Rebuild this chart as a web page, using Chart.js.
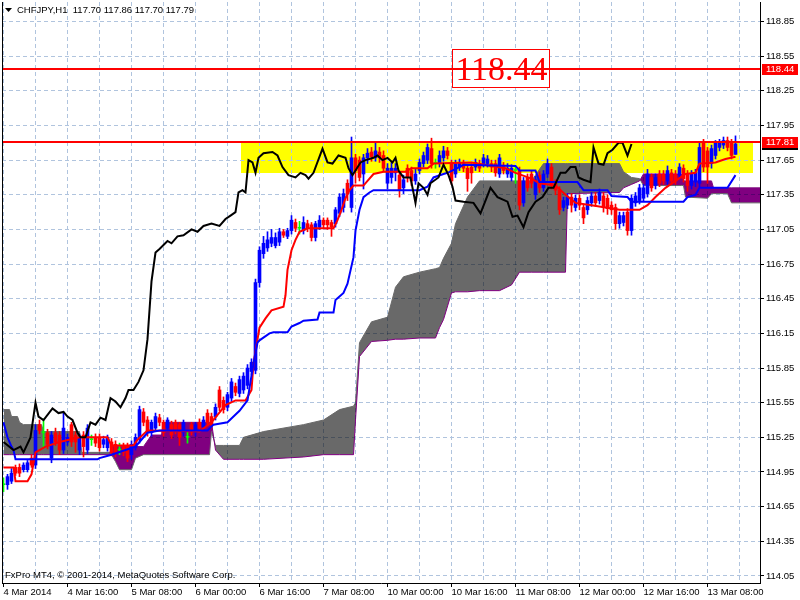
<!DOCTYPE html>
<html>
<head>
<meta charset="utf-8">
<script src="https://cdn.jsdelivr.net/npm/chart.js@4.4.1/dist/chart.umd.min.js"></script>
<style>
  html, body { margin: 0; padding: 0; background: #fff; }
</style>
</head>
<body>
<canvas id="myChart" width="800" height="600"></canvas>
<script>
// Global font settings (MT4 uses a small Tahoma, closest here is Liberation Sans)
Chart.defaults.font.family = "'Liberation Sans', Arial, sans-serif";
Chart.defaults.font.size = 9.5;
Chart.defaults.color = '#000';

const COLORS = {
    BULL: '#0000ff',
    BEAR: '#ff0000',
    DOJI: '#00ff00',
    GRID: '#b0c4de',
    CLOUD_UP: '#696969',
    CLOUD_DN: '#800080',
    ZONE: '#ffff00',
    LEVEL: '#ff0000',
    TENKAN: '#ff0000',
    KIJUN: '#0000ff',
    CHIKOU: '#000000'
};

// CHFJPY H1, bar 0 = 4 Mar 2014 00:00
const opens = [
    114.84,114.84,114.87,114.99,114.99,114.97,114.97,115.07,
    115.01,115.36,115.29,115.29,115.07,115.29,115.27,115.14,
    115.21,115.36,115.27,115.14,115.27,115.14,115.23,115.25,
    115.25,115.19,115.16,115.21,115.19,115.14,115.17,115.17,
    115.10,115.16,115.23,115.47,115.40,115.29,115.33,115.42,
    115.38,115.33,115.36,115.38,115.36,115.29,115.25,115.36,
    115.29,115.38,115.34,115.46,115.43,115.43,115.66,115.57,
    115.51,115.59,115.69,115.63,115.66,115.70,115.82,115.83,
    116.59,116.84,116.89,116.93,116.91,116.94,117.03,116.99,
    117.04,117.11,117.06,117.04,117.10,117.09,116.98,117.07,
    117.13,117.13,117.11,117.10,117.19,117.24,117.45,117.24,
    117.67,117.65,117.53,117.67,117.72,117.67,117.72,117.69,
    117.45,117.50,117.54,117.52,117.41,117.58,117.56,117.47,
    117.56,117.62,117.65,117.75,117.62,117.62,117.67,117.73,
    117.62,117.53,117.59,117.62,117.58,117.59,117.59,117.62,
    117.62,117.62,117.62,117.62,117.53,117.60,117.53,117.50,
    117.56,117.56,117.28,117.50,117.53,117.35,117.52,117.41,
    117.53,117.59,117.45,117.39,117.24,117.26,117.33,117.24,
    117.32,117.24,117.22,117.28,117.34,117.30,117.34,117.32,
    117.26,117.24,117.10,117.11,117.20,117.04,117.28,117.30,
    117.32,117.36,117.50,117.43,117.53,117.53,117.47,117.54,
    117.53,117.52,117.58,117.53,117.43,117.46,117.45,117.80,
    117.73,117.62,117.69,117.76,117.78,117.82,117.80,117.70
];
const highs = [
    114.90,114.93,114.98,115.01,115.02,115.03,115.05,115.10,
    115.36,115.40,115.41,115.32,115.30,115.33,115.30,115.47,
    115.28,115.38,115.30,115.28,115.30,115.36,115.27,115.28,
    115.28,115.26,115.27,115.24,115.22,115.20,115.20,115.20,
    115.22,115.28,115.52,115.50,115.43,115.40,115.46,115.45,
    115.40,115.42,115.39,115.40,115.38,115.40,115.30,115.38,
    115.38,115.41,115.43,115.49,115.46,115.54,115.69,115.60,
    115.64,115.76,115.72,115.78,115.81,115.88,115.93,116.62,
    116.90,116.99,117.03,117.05,117.02,117.06,117.05,117.06,
    117.17,117.14,117.12,117.16,117.13,117.11,117.12,117.17,
    117.15,117.15,117.13,117.24,117.36,117.40,117.48,117.85,
    117.70,117.68,117.70,117.75,117.76,117.80,117.76,117.73,
    117.62,117.63,117.62,117.55,117.52,117.61,117.59,117.57,
    117.66,117.72,117.79,117.84,117.66,117.73,117.77,117.76,
    117.65,117.65,117.66,117.65,117.61,117.62,117.66,117.65,
    117.70,117.69,117.65,117.65,117.70,117.63,117.62,117.61,
    117.60,117.59,117.50,117.53,117.56,117.51,117.55,117.56,
    117.66,117.62,117.48,117.42,117.33,117.36,117.36,117.35,
    117.35,117.27,117.33,117.37,117.37,117.40,117.37,117.35,
    117.29,117.27,117.20,117.20,117.23,117.35,117.37,117.44,
    117.44,117.57,117.53,117.53,117.56,117.56,117.60,117.57,
    117.56,117.62,117.61,117.56,117.56,117.57,117.80,117.83,
    117.76,117.78,117.82,117.83,117.85,117.85,117.83,117.86
];
const lows = [
    114.78,114.80,114.85,114.92,114.91,114.95,114.95,114.99,
    114.98,115.28,115.16,115.15,115.03,115.18,115.10,115.11,
    115.18,115.17,115.12,115.10,115.08,115.11,115.18,115.17,
    115.13,115.16,115.13,115.09,115.08,115.10,115.09,115.04,
    115.06,115.14,115.20,115.35,115.26,115.26,115.30,115.35,
    115.26,115.30,115.24,115.28,115.18,115.26,115.20,115.27,
    115.26,115.30,115.31,115.35,115.33,115.40,115.48,115.46,
    115.48,115.56,115.61,115.60,115.63,115.67,115.79,115.80,
    116.55,116.80,116.86,116.90,116.89,116.91,116.98,116.97,
    117.01,117.03,117.01,117.01,117.03,116.95,116.95,117.05,
    117.06,117.05,116.99,117.07,117.16,117.20,117.30,117.20,
    117.45,117.47,117.40,117.62,117.64,117.64,117.63,117.55,
    117.40,117.45,117.47,117.33,117.36,117.46,117.43,117.44,
    117.53,117.59,117.62,117.58,117.58,117.59,117.64,117.66,
    117.44,117.50,117.56,117.55,117.38,117.45,117.56,117.55,
    117.59,117.59,117.55,117.51,117.50,117.53,117.50,117.47,
    117.45,117.22,117.25,117.38,117.41,117.31,117.37,117.38,
    117.50,117.40,117.35,117.18,117.21,117.23,117.20,117.21,
    117.22,117.10,117.18,117.25,117.25,117.27,117.20,117.18,
    117.18,117.05,117.06,117.08,117.00,117.00,117.25,117.27,
    117.29,117.33,117.38,117.40,117.42,117.44,117.44,117.44,
    117.44,117.49,117.46,117.38,117.40,117.42,117.42,117.55,
    117.45,117.58,117.66,117.73,117.75,117.73,117.66,117.70
];
const closes = [
    114.84,114.91,114.94,114.94,114.94,115.01,115.03,115.01,
    115.31,115.31,115.29,115.19,115.27,115.21,115.14,115.33,
    115.25,115.21,115.21,115.25,115.17,115.33,115.23,115.20,
    115.16,115.23,115.25,115.12,115.12,115.14,115.12,115.07,
    115.19,115.25,115.49,115.38,115.29,115.38,115.43,115.38,
    115.29,115.40,115.27,115.31,115.25,115.38,115.25,115.30,
    115.36,115.33,115.40,115.38,115.36,115.51,115.51,115.49,
    115.62,115.73,115.64,115.75,115.78,115.85,115.90,116.59,
    116.87,116.93,116.96,116.98,116.98,117.03,117.00,117.04,
    117.13,117.06,117.06,117.11,117.06,116.98,117.10,117.13,
    117.09,117.09,117.07,117.22,117.33,117.36,117.36,117.67,
    117.56,117.50,117.67,117.71,117.68,117.73,117.67,117.58,
    117.58,117.58,117.58,117.39,117.48,117.50,117.47,117.53,
    117.63,117.69,117.76,117.62,117.62,117.69,117.73,117.69,
    117.47,117.62,117.63,117.58,117.49,117.54,117.63,117.58,
    117.67,117.66,117.59,117.54,117.67,117.56,117.58,117.58,
    117.56,117.26,117.47,117.41,117.45,117.48,117.41,117.53,
    117.62,117.43,117.39,117.22,117.30,117.33,117.26,117.32,
    117.26,117.15,117.30,117.34,117.28,117.37,117.24,117.23,
    117.22,117.10,117.17,117.17,117.04,117.32,117.34,117.41,
    117.41,117.53,117.41,117.50,117.45,117.47,117.56,117.47,
    117.47,117.59,117.49,117.43,117.53,117.54,117.76,117.59,
    117.59,117.75,117.80,117.80,117.82,117.76,117.69,117.79
];

// Ichimoku lines as [bar, price]
const tenkan = [
    [0,114.99],[2.5,114.99],[3,114.87],[6,114.87],[7,114.93],[8,115.12],[10.5,115.17],[14,115.21],
    [19,115.25],[26,115.25],[27,115.18],[32.5,115.18],[33.5,115.23],[36,115.31],[49,115.30],[52,115.38],
    [55.5,115.53],[58,115.57],[60.5,115.57],[62,115.66],[62.5,115.89],[64,116.20],[65.5,116.28],[67,116.35],
    [70,116.38],[70.5,116.48],[71,116.70],[72,116.87],[73,116.96],[74,117.03],[76,117.06],[82.5,117.06],
    [83.5,117.13],[84.5,117.22],[85.5,117.32],[86.5,117.39],[87.5,117.43],[90,117.43],[91,117.47],[92.5,117.53],
    [95,117.55],[100.5,117.55],[102,117.58],[106,117.58],[107.5,117.62],[117,117.63],[122,117.60],[125.5,117.58],
    [128,117.54],[132,117.49],[134,117.45],[138,117.43],[140.5,117.35],[143,117.28],[147,117.26],[150.5,117.24],
    [154,117.22],[159,117.22],[161,117.26],[163,117.33],[165.5,117.41],[168,117.47],[170.5,117.53],[173,117.54],
    [174,117.62],[178,117.63],[180.5,117.66],[183,117.68]
];
const kijun = [
    [0,115.38],[1,115.25],[2,115.17],[2.5,115.14],[3,115.06],[23.5,115.06],[24,115.07],[27,115.10],
    [30.5,115.14],[33,115.17],[36,115.29],[39,115.31],[51,115.31],[52.5,115.36],[56,115.38],[57.5,115.43],
    [59,115.48],[61,115.57],[62.5,115.89],[63.5,116.07],[64,116.09],[66.5,116.15],[67.5,116.16],[71,116.16],
    [72,116.21],[74,116.24],[75,116.26],[78.5,116.27],[79,116.33],[82.5,116.33],[83,116.44],[85,116.50],
    [86,116.58],[87.5,116.81],[88,117.04],[89,117.22],[90,117.33],[91.5,117.37],[92.5,117.39],[104,117.39],
    [106,117.42],[107.5,117.50],[110,117.53],[111,117.54],[114,117.59],[115,117.61],[128,117.60],[129,117.56],
    [133,117.56],[134,117.46],[143.5,117.46],[145,117.39],[151,117.39],[152,117.34],[156,117.33],[157,117.29],
    [170,117.29],[171,117.33],[173,117.35],[174,117.41],[181,117.41],[183,117.52]
];
const chikou = [
    [0,115.21],[2.5,115.14],[4.25,115.17],[5,115.12],[6.75,115.25],[8,115.55],[8.75,115.43],[10,115.40],
    [12.25,115.50],[13.75,115.46],[15,115.47],[16,115.43],[17.25,115.40],[18.5,115.29],[19.25,115.25],[20.5,115.25],
    [21.75,115.38],[23,115.36],[24.25,115.42],[25.5,115.40],[26.75,115.59],[28,115.56],[29.25,115.51],[30.5,115.59],
    [31.25,115.66],[32.5,115.66],[33.75,115.73],[35,115.83],[36,116.10],[37,116.60],[38,116.85],[39,116.88],
    [41,116.95],[42,116.93],[43.5,116.99],[45,117.00],[47,117.05],[48.5,117.03],[50,117.08],[52,117.10],
    [54,117.08],[55.5,117.14],[56.75,117.17],[58,117.20],[58.75,117.37],[59.75,117.39],[60.5,117.37],[61.25,117.65],
    [62.25,117.63],[63,117.54],[63.75,117.67],[65,117.71],[67.25,117.72],[68.5,117.69],[69.75,117.59],[71.25,117.52],
    [73,117.50],[74.25,117.54],[75.5,117.52],[76.25,117.49],[77.5,117.54],[79.75,117.75],[81,117.63],[82.25,117.62],
    [83.75,117.69],[85.5,117.67],[86.25,117.58],[87.25,117.52],[88,117.56],[89.25,117.63],[90.5,117.65],[92.5,117.67],
    [93.5,117.69],[94.75,117.65],[96,117.67],[97.25,117.63],[98,117.67],[98.75,117.56],[100,117.50],[101.75,117.50],
    [103,117.28],[103.75,117.45],[105,117.41],[106,117.35],[106.75,117.45],[108.75,117.50],[110,117.61],[111.25,117.52],
    [112.25,117.42],[113,117.30],[115,117.29],[117.5,117.28],[119.25,117.19],[121.75,117.41],[123.5,117.33],[126,117.29],
    [127.25,117.16],[128.5,117.17],[130,117.07],[131.25,117.20],[133,117.29],[134.75,117.33],[136.25,117.41],[137.5,117.41],
    [139.25,117.54],[140.5,117.54],[141.75,117.59],[143,117.59],[143.75,117.50],[145,117.48],[146.75,117.46],[147.5,117.76],
    [148.75,117.62],[150,117.61],[151,117.71],[152.25,117.74],[153.75,117.80],[154.75,117.80],[156,117.69],[157,117.79]
];
// Kumo (already shifted 26 bars forward)
const cloudBars = [
    0,1.5,2,3.5,4,5,9.5,10,19,19.5,26.5,27,28,29,32,33,35,37,39.5,40,51.5,52,53,55,59,60,65,75,80,84,87.5,88,
    89,92,96,98,100,104,108,109,110,112,113,116,119,124,127,129,132,135,140.5,141,154,155,157,159,160,169.5,
    170,170.5,176,177,177.5,181,182,189.5
];
const spanA = [
    115.49,115.49,115.43,115.43,115.38,115.36,115.36,115.30,115.30,115.12,115.12,115.10,115.04,114.97,114.97,115.07,
    115.10,115.10,115.10,115.10,115.10,115.30,115.18,115.18,115.18,115.25,115.30,115.36,115.40,115.49,115.52,115.55,
    116.07,116.25,116.29,116.55,116.64,116.68,116.71,116.72,116.80,116.93,117.10,117.33,117.47,117.47,117.47,117.47,
    117.47,117.62,117.62,117.62,117.62,117.55,117.50,117.49,117.43,117.43,117.43,117.33,117.32,117.36,117.36,117.36,
    117.28,117.28
];
const spanB = [
    115.10,115.10,115.10,115.10,115.10,115.10,115.10,115.10,115.10,115.10,115.10,115.17,115.17,115.17,115.17,115.17,
    115.17,115.27,115.27,115.38,115.38,115.38,115.14,115.06,115.06,115.06,115.06,115.08,115.10,115.10,115.10,115.40,
    115.95,116.08,116.09,116.10,116.10,116.11,116.11,116.20,116.27,116.50,116.51,116.51,116.52,116.52,116.57,116.68,
    116.68,116.68,116.68,117.36,117.37,117.41,117.44,117.47,117.53,117.53,117.47,117.47,117.47,117.47,117.41,117.41,
    117.41,117.41
];

const xGridBars = [0,8,16,24,32,40,48,56,64,72,80,88,96,104,112,120,128,136,144,152,160,168,176,184];
const xTickBars = [0,16,32,48,64,80,96,112,128,144,160,176];
const xTickLabels = ['4 Mar 2014','4 Mar 16:00','5 Mar 08:00','6 Mar 00:00','6 Mar 16:00','7 Mar 08:00',
    '10 Mar 00:00','10 Mar 16:00','11 Mar 08:00','12 Mar 00:00','12 Mar 16:00','13 Mar 08:00'];
const yTicks = [114.05,114.35,114.65,114.95,115.25,115.55,115.85,116.15,116.45,116.75,117.05,117.35,117.65,117.95,118.25,118.55,118.85];

const levels = [118.44, 117.81];
const bidPrice = 117.79;
const zone = { from: 59.25, to: 187.25, top: 117.81, bottom: 117.535 };
const labelBox = { from: 112.1, to: 136.4, top: 118.61, bottom: 118.28, text: '118.44' };
const titleText = 'CHFJPY,H1  117.70 117.86 117.70 117.79';
const footerText = 'FxPro MT4, \u00a9 2001-2014, MetaQuotes Software Corp.';

// Build candle datasets
const barIdx = closes.map((c, i) => i);
const candleColors = barIdx.map(i => closes[i] > opens[i] ? COLORS.BULL : (closes[i] < opens[i] ? COLORS.BEAR : COLORS.DOJI));
const toXY = pts => pts.map(p => ({ x: p[0], y: p[1] }));

function px(v) { return Math.round(v - 0.5) + 0.5; }

const overlays = {
    id: 'overlays',
    beforeDraw(chart) {
        const { ctx, scales: { x, y } } = chart;
        ctx.save();
        ctx.fillStyle = '#ffffff';
        ctx.fillRect(0, 0, chart.width, chart.height);
        // yellow zone rectangle
        const x1 = Math.round(x.getPixelForValue(zone.from)), x2 = Math.round(x.getPixelForValue(zone.to));
        const y1 = Math.round(y.getPixelForValue(zone.top)), y2 = Math.round(y.getPixelForValue(zone.bottom));
        ctx.fillStyle = COLORS.ZONE;
        ctx.fillRect(x1, y1, x2 - x1, y2 - y1);
        ctx.restore();
    },
    afterDatasetDraw(chart, args) {
        if (args.index !== 1) return;
        // grid shows through the cloud as darker dashes
        const { ctx, chartArea: a, scales: { x, y } } = chart;
        const pa = chart.getDatasetMeta(0).data, pb = chart.getDatasetMeta(1).data;
        ctx.save();
        ctx.beginPath();
        pa.forEach((p, i) => i ? ctx.lineTo(p.x, p.y) : ctx.moveTo(p.x, p.y));
        for (let i = pb.length - 1; i >= 0; i--) ctx.lineTo(pb[i].x, pb[i].y);
        ctx.closePath();
        ctx.clip();
        ctx.globalCompositeOperation = 'multiply';
        ctx.strokeStyle = COLORS.GRID;
        ctx.lineWidth = 1;
        ctx.setLineDash([4, 3]);
        x.ticks.forEach(t => {
            const xx = px(x.getPixelForValue(t.value));
            ctx.beginPath(); ctx.moveTo(xx, a.top); ctx.lineTo(xx, a.bottom); ctx.stroke();
        });
        y.ticks.forEach(t => {
            const yy = px(y.getPixelForValue(t.value));
            ctx.beginPath(); ctx.moveTo(a.left, yy); ctx.lineTo(a.right, yy); ctx.stroke();
        });
        ctx.restore();
    },
    afterDatasetsDraw(chart) {
        const { ctx, chartArea: a, scales: { x, y } } = chart;
        ctx.save();
        // text label box
        const bx1 = Math.round(x.getPixelForValue(labelBox.from)), bx2 = Math.round(x.getPixelForValue(labelBox.to));
        const by1 = Math.round(y.getPixelForValue(labelBox.top)), by2 = Math.round(y.getPixelForValue(labelBox.bottom));
        ctx.fillStyle = '#ffffff';
        ctx.fillRect(bx1, by1, bx2 - bx1, by2 - by1);
        ctx.strokeStyle = COLORS.LEVEL;
        ctx.lineWidth = 1;
        ctx.strokeRect(bx1 + 0.5, by1 + 0.5, bx2 - bx1, by2 - by1);
        // horizontal levels
        ctx.fillStyle = COLORS.LEVEL;
        levels.forEach(v => {
            const yy = Math.round(y.getPixelForValue(v));
            ctx.fillRect(a.left, yy - 1, a.right - a.left, 2);
        });
        ctx.font = "34px 'Liberation Serif', 'Times New Roman', serif";
        ctx.textAlign = 'center';
        ctx.textBaseline = 'alphabetic';
        ctx.fillText(labelBox.text, (bx1 + bx2) / 2 + 1, by2 - 7);
        ctx.restore();
    },
    afterDraw(chart) {
        const { ctx, chartArea: a, scales: { y } } = chart;
        ctx.save();
        // left frame line
        ctx.fillStyle = '#000';
        ctx.fillRect(a.left, a.top, 1, a.bottom - a.top);
        // price tags on the axis
        ctx.font = "9.5px 'Liberation Sans', Arial, sans-serif";
        ctx.textBaseline = 'middle';
        ctx.textAlign = 'left';
        const tags = [{ v: bidPrice, bg: '#000000' }, { v: levels[0], bg: COLORS.LEVEL }, { v: levels[1], bg: COLORS.LEVEL }];
        tags.forEach(t => {
            const yy = y.getPixelForValue(t.v);
            ctx.fillStyle = t.bg;
            ctx.fillRect(a.right + 2, Math.round(yy) - 5, chart.width - a.right - 4, 11);
            ctx.fillStyle = '#ffffff';
            ctx.fillText(t.v.toFixed(2), a.right + 6, Math.round(yy) + 0.5);
        });
        // title and footer
        ctx.fillStyle = '#000';
        ctx.beginPath();
        ctx.moveTo(5, 8); ctx.lineTo(12, 8); ctx.lineTo(8.5, 12); ctx.closePath(); ctx.fill();
        ctx.fillText(titleText, 17, 10.5);
        ctx.fillText(footerText, 5, 575.5);
        ctx.restore();
    }
};

const dataset = {
    datasets: [{
        type: 'line',
        label: 'Senkou Span A',
        data: cloudBars.map((b, i) => ({ x: b, y: spanA[i] })),
        borderColor: COLORS.CLOUD_UP,
        borderWidth: 1,
        pointRadius: 0,
        tension: 0,
        fill: { target: 1, above: COLORS.CLOUD_UP, below: COLORS.CLOUD_DN },
        order: 70
    }, {
        type: 'line',
        label: 'Senkou Span B',
        data: cloudBars.map((b, i) => ({ x: b, y: spanB[i] })),
        borderColor: COLORS.CLOUD_DN,
        borderWidth: 1,
        pointRadius: 0,
        tension: 0,
        fill: false,
        order: 60
    }, {
        type: 'bar',
        label: 'Wicks',
        data: barIdx.map(i => ({ x: i, y: [lows[i], highs[i]] })),
        backgroundColor: candleColors,
        borderWidth: 0,
        barThickness: 1,
        grouped: false,
        order: 50
    }, {
        type: 'bar',
        label: 'Bodies',
        data: barIdx.map(i => ({ x: i, y: [opens[i], closes[i]] })),
        backgroundColor: candleColors,
        borderWidth: 0,
        barThickness: 3,
        minBarLength: 1,
        grouped: false,
        order: 40
    }, {
        type: 'line',
        label: 'Tenkan-sen',
        data: toXY(tenkan),
        borderColor: COLORS.TENKAN,
        borderWidth: 2,
        pointRadius: 0,
        tension: 0,
        order: 30
    }, {
        type: 'line',
        label: 'Kijun-sen',
        data: toXY(kijun),
        borderColor: COLORS.KIJUN,
        borderWidth: 2,
        pointRadius: 0,
        tension: 0,
        order: 20
    }, {
        type: 'line',
        label: 'Chikou Span',
        data: toXY(chikou),
        borderColor: COLORS.CHIKOU,
        borderWidth: 2,
        pointRadius: 0,
        tension: 0,
        order: 10
    }]
};

const options = {
    responsive: false,
    animation: false,
    events: [],
    layout: { padding: { left: 2, top: 2, right: 0, bottom: 0 } },
    plugins: { legend: { display: false }, tooltip: { enabled: false } },
    scales: {
        x: {
            type: 'linear',
            min: -0.375,
            max: 189.125,
            offset: false,
            afterBuildTicks: s => { s.ticks = xGridBars.map(v => ({ value: v })); },
            afterFit: s => { s.height = 17; s.paddingLeft = 0; s.paddingRight = 0; },
            grid: {
                offset: false,
                color: COLORS.GRID,
                tickLength: 4,
                tickColor: c => (c.tick && xTickBars.includes(c.tick.value)) ? '#000' : 'rgba(0,0,0,0)'
            },
            border: { display: true, color: '#000', dash: [4, 3] },
            ticks: {
                autoSkip: false,
                maxRotation: 0,
                minRotation: 0,
                align: 'start',
                padding: 0,
                callback: v => { const k = xTickBars.indexOf(v); return k >= 0 ? xTickLabels[k] : ''; }
            }
        },
        y: {
            position: 'right',
            min: 113.989,
            max: 119.019,
            afterBuildTicks: s => { s.ticks = yTicks.map(v => ({ value: v })); },
            afterFit: s => { s.width = 40; s.paddingTop = 0; s.paddingBottom = 0; },
            grid: { color: COLORS.GRID, tickLength: 4, tickColor: '#000' },
            border: { display: true, color: '#000', dash: [4, 3] },
            ticks: { padding: 2, callback: v => v.toFixed(2) }
        }
    }
};

new Chart(document.getElementById('myChart'), {
    type: 'line',
    data: dataset,
    options: options,
    plugins: [overlays]
});
</script>
</body>
</html>
